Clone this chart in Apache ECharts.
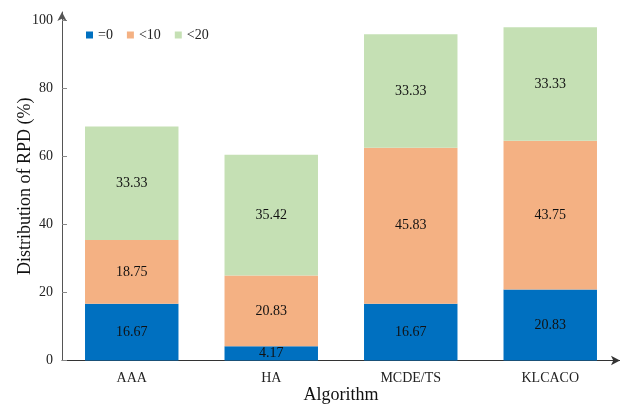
<!DOCTYPE html>
<html>
<head>
<meta charset="utf-8">
<script src="https://cdn.jsdelivr.net/npm/echarts@6/dist/echarts.min.js"></script>
<style>html,body{margin:0;padding:0;background:#fff}#c{width:620px;height:408px}</style>
</head>
<body>
<div id="c"></div>
<script>
var categories = ['AAA', 'HA', 'MCDE/TS', 'KLCACO'];
var seriesNames = ['=0', '<10', '<20'];
var eq0 = [16.67, 4.17, 16.67, 20.83];
var lt10 = [18.75, 20.83, 45.83, 43.75];
var lt20 = [33.33, 35.42, 33.33, 33.33];
var yTicks = [0, 20, 40, 60, 80, 100];
var colors = ['#0070C0', '#F4B183', '#C5E0B4'];

var font = "'Liberation Serif', 'Times New Roman', serif";
var chart = echarts.init(document.getElementById('c'));
function mk(name, data, color) {
  return {
    name: name, type: 'bar', stack: 'a', data: data, barWidth: '67%',
    itemStyle: { color: color },
    label: { show: true, position: 'inside', fontFamily: font, fontSize: 14, color: '#111',
      formatter: function (p) { return p.value.toFixed(2); } },
    emphasis: { disabled: true }
  };
}
chart.setOption({
  animation: false,
  textStyle: { fontFamily: font },
  grid: { left: 62, right: 0, top: 12, bottom: 47.5, containLabel: false, outerBoundsMode: 'none' },
  legend: {
    left: 81, top: 23, itemWidth: 7, itemHeight: 7, itemGap: 14, icon: 'rect',
    textStyle: { fontFamily: font, fontSize: 14, color: '#222' },
    data: seriesNames
  },
  xAxis: {
    type: 'category', data: categories,
    name: 'Algorithm', nameLocation: 'middle', nameGap: 26, nameMoveOverlap: false,
    nameTextStyle: { fontFamily: font, fontSize: 18, color: '#111' },
    axisLine: { lineStyle: { color: '#333', width: 1 }, symbol: ['none', 'arrow'], symbolSize: [7, 9] },
    axisTick: { show: false },
    axisLabel: { fontFamily: font, fontSize: 14, color: '#222', margin: 11 }
  },
  yAxis: {
    type: 'value', min: 0, max: 102.4,
    name: 'Distribution of RPD (%)', nameLocation: 'middle', nameGap: 28, nameMoveOverlap: false,
    nameTextStyle: { fontFamily: font, fontSize: 18, color: '#111' },
    axisLine: { show: true, lineStyle: { color: '#555', width: 1 }, symbol: ['none', 'arrow'], symbolSize: [7, 9] },
    axisTick: { show: true, inside: true, length: 5, lineStyle: { color: '#888' }, customValues: yTicks },
    axisLabel: { fontFamily: font, fontSize: 14, color: '#222', margin: 9, customValues: yTicks },
    splitLine: { show: false }
  },
  series: [mk(seriesNames[0], eq0, colors[0]), mk(seriesNames[1], lt10, colors[1]), mk(seriesNames[2], lt20, colors[2])]
});
</script>
</body>
</html>
